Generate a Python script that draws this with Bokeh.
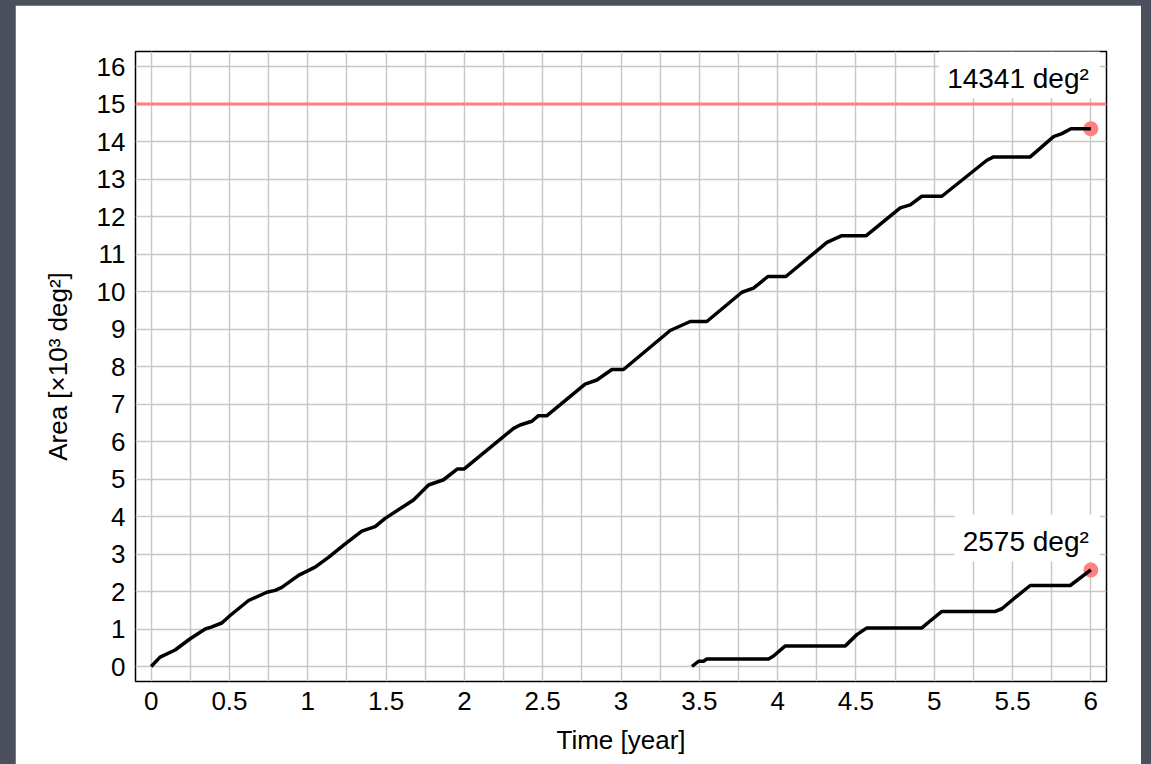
from bokeh.plotting import figure
from bokeh.models import Range1d, FixedTicker, Label, Span
from bokeh.embed import file_html
from bokeh.resources import INLINE

# ---- data (area in units of 10^3 deg^2, time in years) ----
t_main = [0, 0.057, 0.153, 0.249, 0.345, 0.383, 0.451, 0.504, 0.622, 0.739, 0.792, 0.834,
          0.941, 1.047, 1.132, 1.239, 1.345, 1.430, 1.494, 1.675, 1.771, 1.867, 1.956, 1.999,
          2.314, 2.356, 2.431, 2.473, 2.527, 2.771, 2.846, 2.942, 3.016, 3.314, 3.442, 3.548,
          3.772, 3.846, 3.938, 4.053, 4.315, 4.410, 4.566, 4.783, 4.847, 4.921, 5.049, 5.336,
          5.379, 5.613, 5.762, 5.815, 5.873, 6.0]
a_main = [0, 0.25, 0.44, 0.74, 1.00, 1.05, 1.16, 1.36, 1.76, 1.98, 2.03, 2.11,
          2.43, 2.65, 2.91, 3.27, 3.61, 3.73, 3.95, 4.44, 4.84, 4.98, 5.27, 5.27,
          6.35, 6.44, 6.54, 6.69, 6.69, 7.53, 7.64, 7.92, 7.92, 8.96, 9.20, 9.20,
          9.98, 10.09, 10.40, 10.40, 11.31, 11.49, 11.49, 12.23, 12.31, 12.54, 12.54, 13.50,
          13.59, 13.59, 14.13, 14.21, 14.341, 14.341]

t_deep = [3.453, 3.495, 3.527, 3.548, 3.942, 3.974, 4.049, 4.432, 4.506, 4.570, 4.921,
          4.964, 5.049, 5.390, 5.432, 5.506, 5.613, 5.868, 6.0]
a_deep = [0, 0.14, 0.14, 0.20, 0.20, 0.28, 0.55, 0.55, 0.85, 1.03, 1.03,
          1.18, 1.47, 1.47, 1.54, 1.80, 2.16, 2.16, 2.575]

target_area = 15

x_ticks = [0, 0.5, 1, 1.5, 2, 2.5, 3, 3.5, 4, 4.5, 5, 5.5, 6]
x_tick_labels = ["0", "0.5", "1", "1.5", "2", "2.5", "3", "3.5", "4", "4.5", "5", "5.5", "6"]
x_grid_ticks = [i * 0.25 for i in range(25)]
y_ticks = list(range(0, 17))

FONT = "Liberation Sans"
FS = "26px"
RED = "#ff8080"
GRID = "#c8c8c8"

p = figure(width=1126, height=759,
           x_range=Range1d(-0.1, 6.1), y_range=Range1d(-0.4, 16.4),
           output_backend="svg", toolbar_location=None,
           min_border_left=120, min_border_right=35,
           min_border_top=46, min_border_bottom=83)
p.background_fill_color = "white"
p.border_fill_color = "white"
p.outline_line_color = "black"
p.outline_line_width = 1.5

p.xaxis.ticker = FixedTicker(ticks=x_ticks)
p.xaxis.major_label_overrides = {t: lab for t, lab in zip(x_ticks, x_tick_labels)}
p.yaxis.ticker = FixedTicker(ticks=y_ticks)
p.xgrid.ticker = FixedTicker(ticks=x_grid_ticks)
p.ygrid.ticker = FixedTicker(ticks=y_ticks)
for g in (p.xgrid, p.ygrid):
    g.grid_line_color = GRID
    g.grid_line_width = 1.5

for ax in (p.xaxis, p.yaxis):
    ax.axis_line_color = None
    ax.major_tick_line_color = None
    ax.minor_tick_line_color = None
    ax.major_tick_out = 0
    ax.major_tick_in = 0
    ax.major_label_text_font = FONT
    ax.major_label_text_font_size = FS
    ax.major_label_text_color = "black"
    ax.axis_label_text_font = FONT
    ax.axis_label_text_font_size = FS
    ax.axis_label_text_font_style = "normal"
    ax.axis_label_text_color = "black"

p.xaxis.axis_label = "Time [year]"
p.yaxis.axis_label = "Area [×10³ deg²]"
p.xaxis.major_label_standoff = 10
p.yaxis.major_label_standoff = 10
p.xaxis.axis_label_standoff = 12
p.yaxis.axis_label_standoff = 21

p.add_layout(Span(location=target_area, dimension="width", line_color=RED, line_width=3))

p.scatter(x=[t_main[-1], t_deep[-1]], y=[a_main[-1], a_deep[-1]],
          size=15, fill_color=RED, line_color=None)
p.line(t_main, a_main, line_color="black", line_width=3.5, line_join="round")
p.line(t_deep, a_deep, line_color="black", line_width=3.5, line_join="round")

for tt, aa, off in ((t_main, a_main, 54), (t_deep, a_deep, 32)):
    p.add_layout(Label(x=tt[-1], y=aa[-1], x_offset=9, y_offset=off,
                       text=f"{round(aa[-1] * 1000)} deg²",
                       text_align="right", text_baseline="alphabetic",
                       text_font=FONT, text_font_size="28px", text_color="black",
                       background_fill_color="white",
                       padding=dict(left=8, right=11, top=12, bottom=4)))

html = file_html(p, INLINE)
html = html.replace(
    "</head>",
    "<style>html,body{background:#4b505c;overflow:hidden;}body{margin:5px 0 0 15px;}</style></head>",
    1)
open("out.html", "w").write(html)
